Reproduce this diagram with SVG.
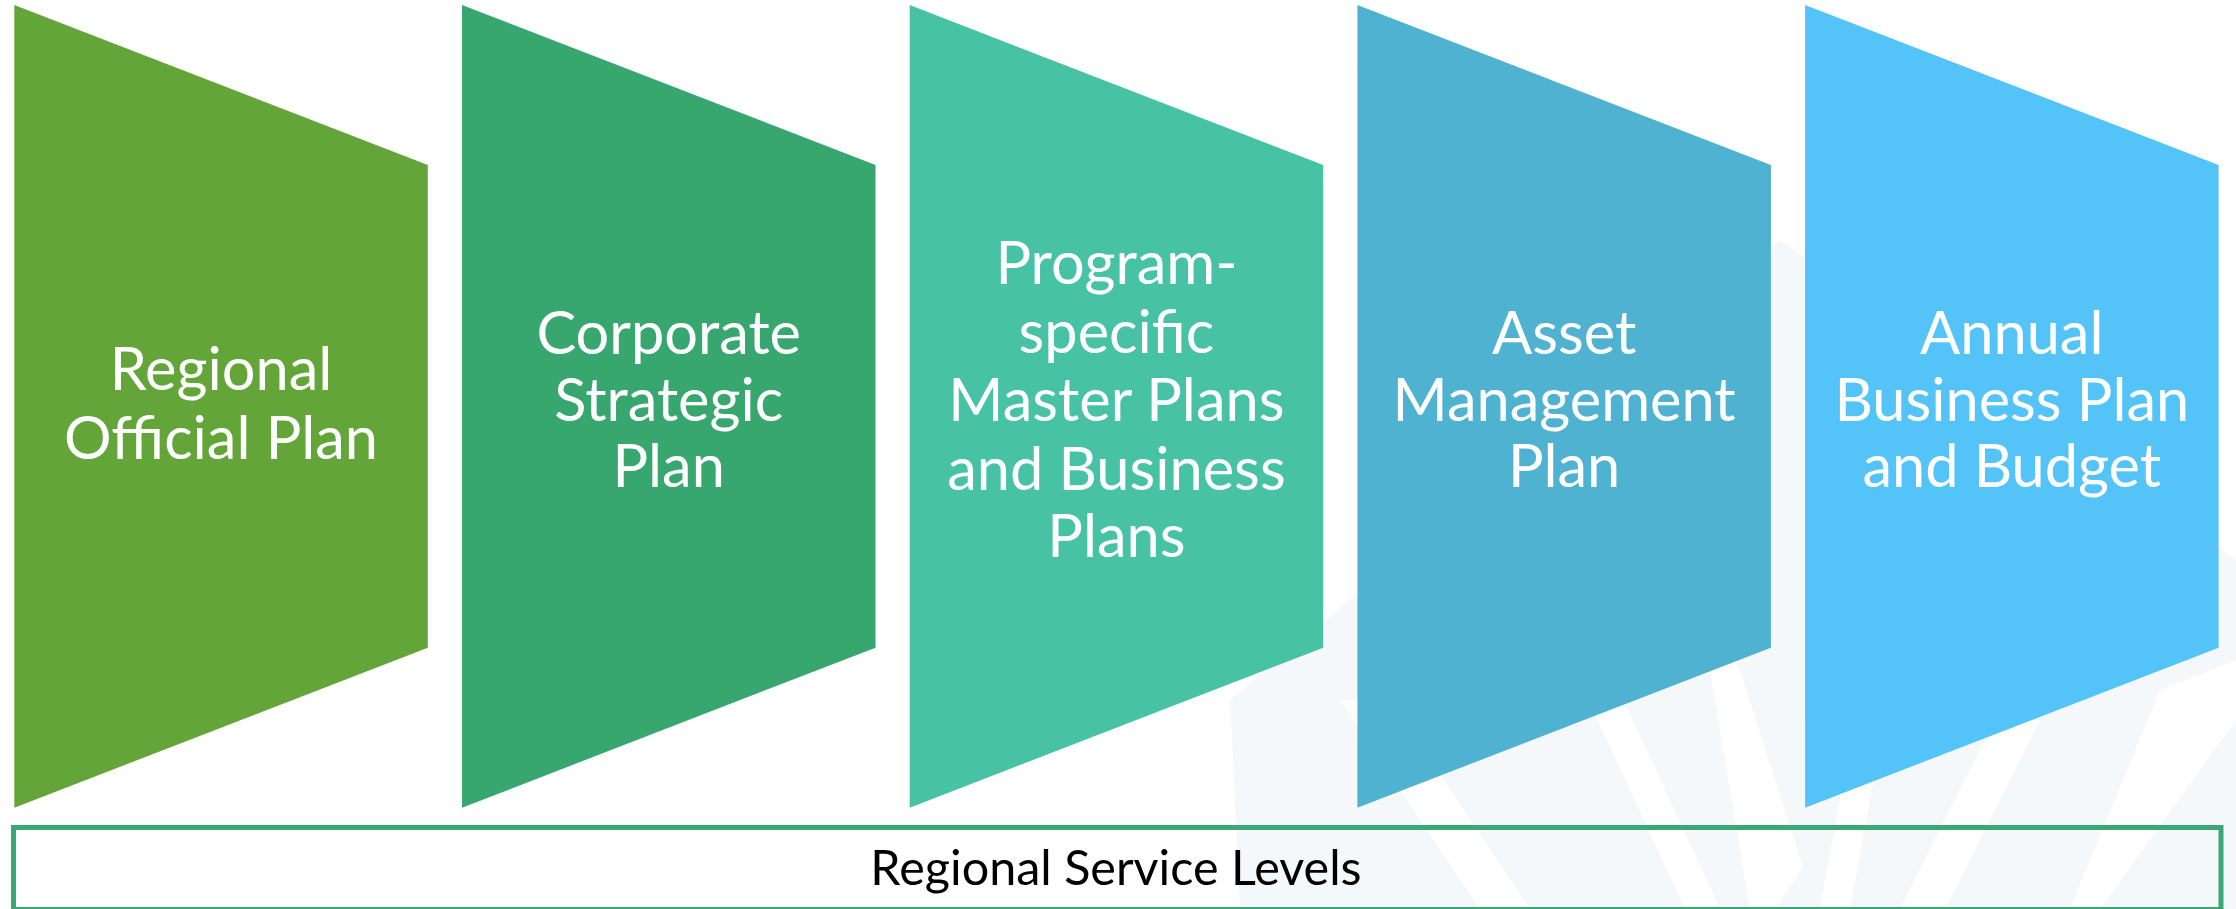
<svg xmlns="http://www.w3.org/2000/svg" width="2236" height="909" viewBox="0 0 2236 909">
  <style>
    .lbl { font-family: "Lato", "Open Sans", "Liberation Sans", sans-serif; font-size: 59.5px; fill: #ffffff; text-anchor: middle; }
    .base { font-family: "Lato", "Open Sans", "Liberation Sans", sans-serif; font-size: 48.5px; fill: #000000; text-anchor: middle; }
    .wm { fill: #F5F8FB; }
    .wmw { fill: #ffffff; }
  </style>
  <rect width="2236" height="909" fill="#ffffff"/>
  <g id="watermark">
    <polygon class="wm" points="1230,700 1780,240 2236,560 2236,909 1240,909"/>
    <polygon class="wmw" points="1340,700 1390,700 1530,909 1480,909"/>
    <polygon class="wmw" points="1570,660 1605,660 1720,909 1685,909"/>
    <polygon class="wmw" points="1705,640 1730,640 1803,867 1775,909 1750,909"/>
    <polygon class="wmw" points="1860,690 1890,690 1850,909 1820,909"/>
    <polygon class="wmw" points="1995,720 2040,720 1945,909 1900,909"/>
    <polygon class="wmw" points="2160,690 2236,660 2236,720 2100,909 2070,909"/>
  </g>
  <g id="node-regional-official-plan">
    <polygon points="14.3,5 427.8,165 427.8,647.7 14.3,807.7" fill="#64A53A"/>
    <text class="lbl" x="221" y="390">Regional</text>
    <text class="lbl" x="221" y="459">Official Plan</text>
  </g>
  <g id="node-corporate-strategic-plan">
    <polygon points="462,5 875.5,165 875.5,647.7 462,807.7" fill="#38A76F"/>
    <text class="lbl" x="668.7" y="354">Corporate</text>
    <text class="lbl" x="668.7" y="420.7">Strategic</text>
    <text class="lbl" x="668.7" y="487">Plan</text>
  </g>
  <g id="node-program-specific">
    <polygon points="909.7,5 1323.2,165 1323.2,647.7 909.7,807.7" fill="#47C2A4"/>
    <text class="lbl" x="1116.4" y="284">Program-</text>
    <text class="lbl" x="1116.4" y="352.5">specific</text>
    <text class="lbl" x="1116.4" y="421">Master Plans</text>
    <text class="lbl" x="1116.4" y="489.5">and Business</text>
    <text class="lbl" x="1116.4" y="557">Plans</text>
  </g>
  <g id="node-asset-management-plan">
    <polygon points="1357.4,5 1770.9,165 1770.9,647.7 1357.4,807.7" fill="#4FB2D0"/>
    <text class="lbl" x="1564.1" y="354">Asset</text>
    <text class="lbl" x="1564.1" y="420.7">Management</text>
    <text class="lbl" x="1564.1" y="487">Plan</text>
  </g>
  <g id="node-annual-business-plan">
    <polygon points="1805.1,5 2218.6,165 2218.6,647.7 1805.1,807.7" fill="#53C3F8"/>
    <text class="lbl" x="2011.8" y="354">Annual</text>
    <text class="lbl" x="2011.8" y="420.7">Business Plan</text>
    <text class="lbl" x="2011.8" y="487">and Budget</text>
  </g>
  <g id="node-regional-service-levels">
    <rect x="13.5" y="827.5" width="2207.5" height="82" fill="none" stroke="#3BA774" stroke-width="5"/>
    <text class="base" x="1116" y="885">Regional Service Levels</text>
  </g>
  <g id="connectors"></g>
</svg>
